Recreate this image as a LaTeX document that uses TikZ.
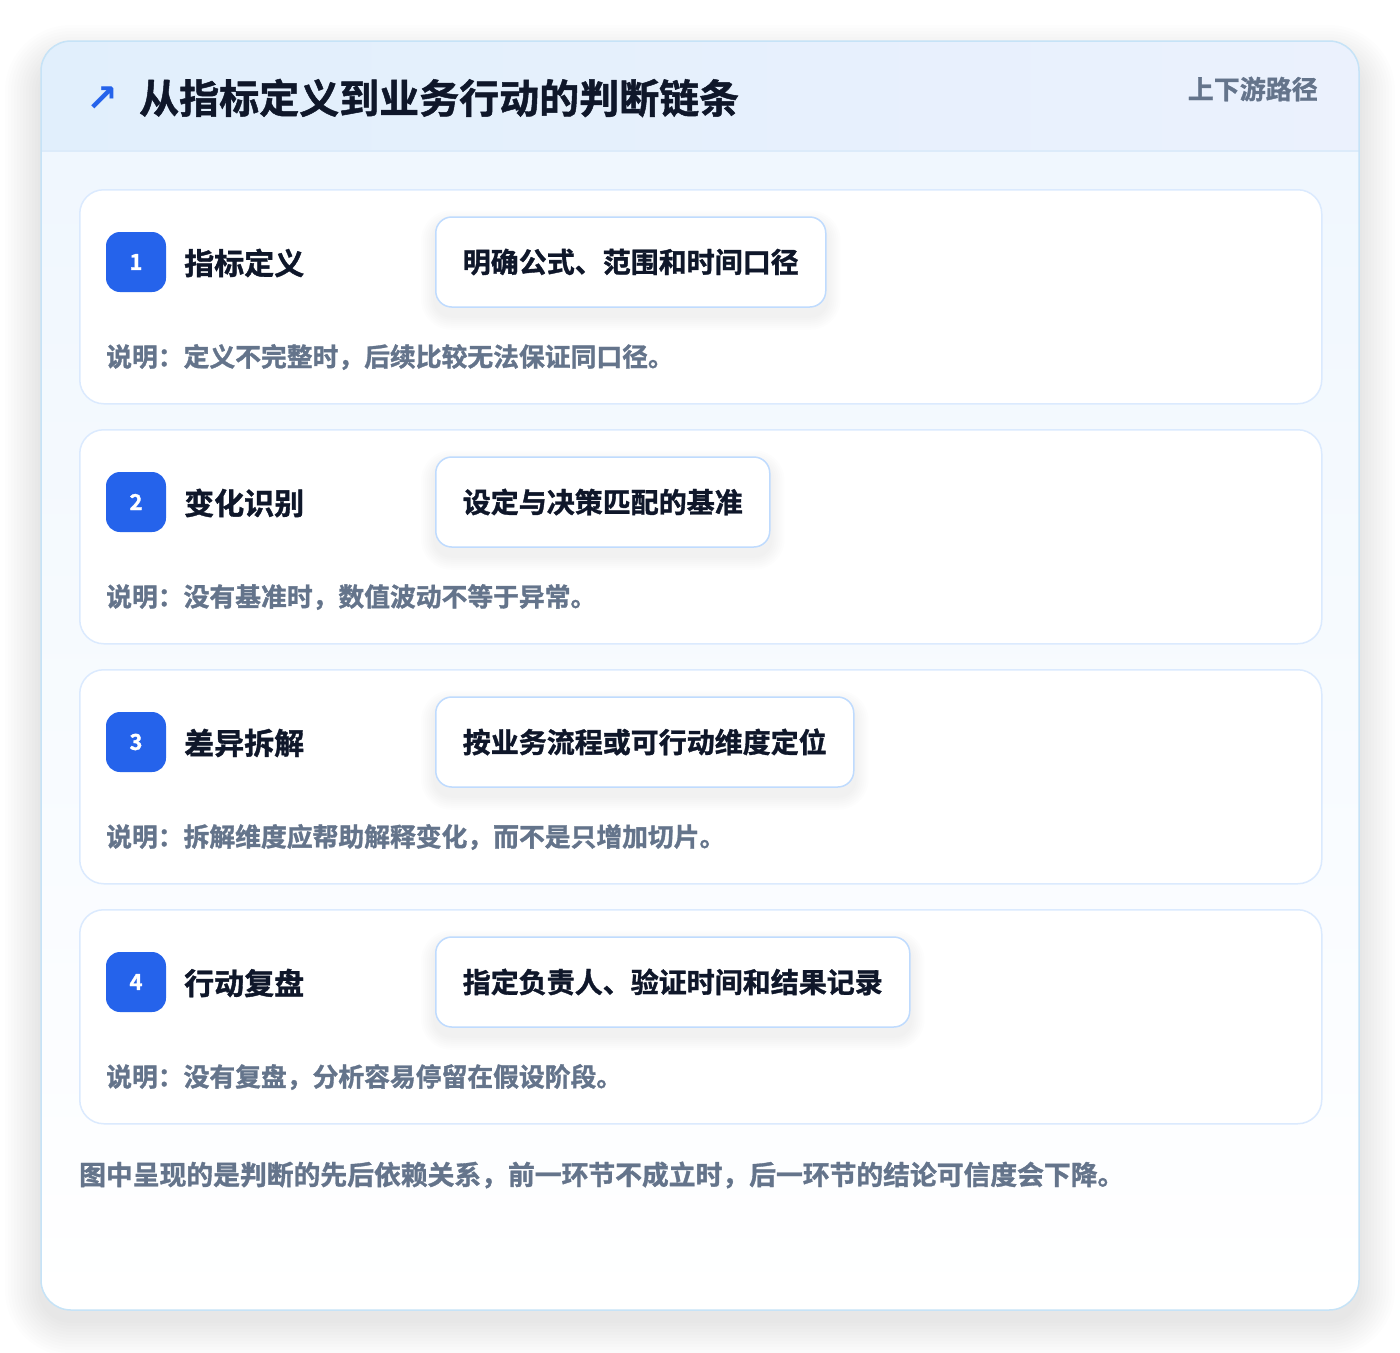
\documentclass[tikz,border=0pt]{standalone}
\usepackage{fontspec}
\newfontfamily\cjk{Noto Sans CJK SC}[BoldFont=* Bold, BoldFeatures={FakeBold=1.2}]
\newfontfamily\symb{DejaVu Sans}[BoldFont=* Bold]

\definecolor{ink}{HTML}{0F172A}
\definecolor{muted}{HTML}{64748B}
\definecolor{badgeblue}{HTML}{2563EB}
\definecolor{cardline}{HTML}{DBEAFE}
\definecolor{chipline}{HTML}{BFDBFE}
\definecolor{panelline}{HTML}{C6E3F7}
\definecolor{headA}{HTML}{E1EFFC}
\definecolor{headB}{HTML}{EBF1FD}
\definecolor{headrule}{HTML}{DCEBFA}
\definecolor{bodytop}{HTML}{F0F7FE}

\pgfdeclarelayer{shade}
\pgfdeclarelayer{front}
\pgfsetlayers{main,shade,front}

\tikzstyle{card} = [draw=cardline, line width=1.5pt, fill=white, rounded corners=24pt, anchor=north west, minimum width=1242, minimum height=214, inner sep=0pt]
\tikzstyle{badge} = [fill=badgeblue, rounded corners=14pt, minimum size=60, inner sep=0pt, text=white, font=\cjk\bfseries\fontsize{22}{26}\selectfont]
\tikzstyle{stage} = [anchor=west, inner sep=0pt, text=ink, font=\cjk\bfseries\fontsize{30}{36}\selectfont]
\tikzstyle{chip} = [draw=chipline, line width=1.5pt, fill=white, rounded corners=16pt, anchor=west, minimum height=90, inner xsep=27pt, text=ink, font=\cjk\bfseries\fontsize{28}{34}\selectfont]
\tikzstyle{note} = [anchor=west, inner sep=0pt, text=muted, font=\cjk\bfseries\fontsize{25.8}{30}\selectfont]
\tikzstyle{haze} = [fill=black, opacity=0.006]

\begin{document}
\begin{tikzpicture}[x=1pt, y=-1pt]
\useasboundingbox (0,0) rectangle (1400,1352);
\fill[white] (0,0) rectangle (1400,1352);

% soft shadow under the panel
\foreach \k in {1,...,12}
  \fill[haze, rounded corners=30+3*\k] (41-3*\k,61-3*\k) rectangle (1359+3*\k,1320+3*\k);

% outer panel
\fill[white, rounded corners=30pt] (41,41) rectangle (1359,1310);
\begin{scope}
\clip[rounded corners=30pt] (41,41) rectangle (1359,1310);
\fill[top color=bodytop, bottom color=white] (41,151) rectangle (1359,1310);
\fill[left color=headA, right color=headB] (41,41) rectangle (1359,151);
\draw[headrule, line width=1.5pt] (41,151) -- (1359,151);
\end{scope}
\draw[panelline, line width=1.5pt, rounded corners=30pt] (41,41) rectangle (1359,1310);

% header
\node[inner sep=0pt, text=badgeblue, font=\symb\bfseries\fontsize{38}{44}\selectfont] (icon) at (102,99) {↗};
\node[anchor=west, inner sep=0pt, text=ink, font=\cjk\bfseries\fontsize{40}{48}\selectfont] (title) at (139,98) {从指标定义到业务行动的判断链条};
\node[anchor=east, inner sep=0pt, text=muted, font=\cjk\bfseries\fontsize{26}{32}\selectfont] (route) at (1318,89) {上下游路径};

% stages
\foreach \i/\name/\rule/\why in {
  1/指标定义/明确公式、范围和时间口径/说明：定义不完整时，后续比较无法保证同口径。,
  2/变化识别/设定与决策匹配的基准/说明：没有基准时，数值波动不等于异常。,
  3/差异拆解/按业务流程或可行动维度定位/说明：拆解维度应帮助解释变化，而不是只增加切片。,
  4/行动复盘/指定负责人、验证时间和结果记录/说明：没有复盘，分析容易停留在假设阶段。}
{
  \pgfmathsetmacro\top{189+240*(\i-1)}
  \node[card] (card\i) at (79,\top) {};
  \node[badge] (badge\i) at (136,\top+73) {\i};
  \node[stage] (stage\i) at (184,\top+74) {\name};
  \node[note] (note\i) at (106,\top+168) {\why};
  \begin{pgfonlayer}{front}
    \node[chip] (chip\i) at (435,\top+73) {\rule};
  \end{pgfonlayer}
  \begin{pgfonlayer}{shade}
    \foreach \k in {1,...,7}
      \fill[haze, opacity=0.009, rounded corners=16+2*\k]
        ([shift={(-2*\k,2*\k+8)}]chip\i.south west) rectangle ([shift={(2*\k,-2*\k+8)}]chip\i.north east);
  \end{pgfonlayer}
}

% footer
\node[anchor=west, inner sep=0pt, text=muted, font=\cjk\bfseries\fontsize{26.8}{32}\selectfont] (summary) at (79,1175) {图中呈现的是判断的先后依赖关系，前一环节不成立时，后一环节的结论可信度会下降。};
\end{tikzpicture}
\end{document}
